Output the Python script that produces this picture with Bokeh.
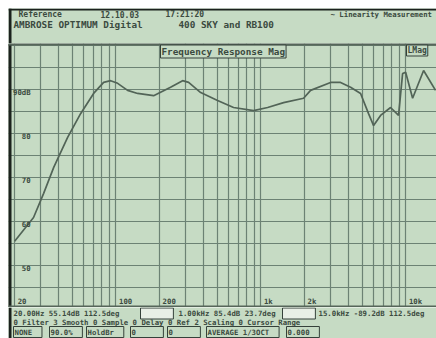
from bokeh.plotting import figure
from bokeh.models import Label, FixedTicker, Range1d
from bokeh.layouts import column
from bokeh.core.properties import value
from bokeh.embed import file_html
from bokeh.resources import INLINE

# Frequency response (Hz, dB)
freq = [20, 27, 31.7, 37.2, 46.4, 57, 70.1, 82.2, 91.9, 102.7, 120.3, 141,
        181.8, 238, 288, 317, 384, 502, 647, 890, 1112, 1433, 1968, 2199,
        3021, 3541, 4151, 4866, 5522, 5983, 6685, 7835, 8895, 9484, 9954,
        11120, 13240, 16000]
spl = [55.5, 60.9, 66.4, 72.3, 79.1, 84.5, 89.1, 91.6, 92.0, 91.4, 89.8, 89.1,
       88.6, 90.5, 92.0, 91.6, 89.3, 87.5, 85.9, 85.2, 85.9, 87.0, 88.0, 89.8,
       91.6, 91.6, 90.5, 89.1, 84.5, 81.8, 84.1, 85.9, 84.1, 93.6, 93.9,
       88.0, 94.3, 89.8]

x_grid = [20, 30, 40, 50, 60, 70, 80, 90, 100, 200, 300, 400, 500, 600, 700,
          800, 900, 1000, 2000, 3000, 4000, 5000, 6000, 7000, 8000, 9000, 10000]
y_grid = [45, 50, 55, 60, 65, 70, 75, 80, 85, 90, 95, 100]
x_tick_f = [20, 100, 200, 1000, 2000, 10000]
x_tick_t = ["20", "100", "200", "1k", "2k", "10k"]
y_tick_v = [90, 80, 70, 60, 50]
y_tick_t = ["90dB", "80", "70", "60", "50"]

BG = "#c6dbc4"
GRID = "#6c8274"
INK = "#3b4a40"
DARK = "#1b221d"
EDGE = "#56665a"
FONTNAME = "DejaVu Sans Mono"
FONT = value(FONTNAME)


def panel(h, xr, yr, top=0, xtype="linear"):
    f = figure(width=436, height=h, output_backend="svg", toolbar_location=None,
               x_axis_type=xtype, x_range=xr, y_range=yr,
               min_border_left=8, min_border_right=0, min_border_top=top,
               min_border_bottom=0)
    f.background_fill_color = BG
    f.border_fill_color = "white"
    f.outline_line_color = None
    for ax in f.axis:
        ax.visible = False
    return f


def lab(f, x, y, t, box=False, size="6pt", fill=BG, units="data"):
    kw = dict(x=x, y=y, x_units=units, y_units=units, text=t,
              text_font=FONTNAME, text_font_size=size, text_font_style="bold",
              text_color=INK, text_baseline="middle")
    if box:
        kw.update(border_line_color="#35413a", border_line_width=1,
                  background_fill_color=fill, padding=1)
    f.add_layout(Label(**kw))


# ---- header panel (data units = page pixels)
head = panel(43, Range1d(8, 436), Range1d(43, 8), top=8)
head.grid.visible = False
head.segment(x0=[8], y0=[9], x1=[436], y1=[9], line_color=DARK, line_width=2)
head.segment(x0=[9.5], y0=[8], x1=[9.5], y1=[43], line_color=DARK, line_width=3)
lab(head, 18, 13.5, "Reference")
lab(head, 100, 13.5, "12.10.03")
lab(head, 165, 13.5, "17:21:20")
lab(head, 330, 13.5, "~ Linearity Measurement", size="5.5pt")
lab(head, 13, 24, "AMBROSE OPTIMUM Digital", size="7pt")
lab(head, 178, 24, "400 SKY and RB100", size="7pt")

# ---- main plot
xr = Range1d(18.14, 16250)
yr = Range1d(40.45, 100.45)
p = panel(264, xr, yr, xtype="log")
p.xgrid.ticker = FixedTicker(ticks=x_grid)
p.ygrid.ticker = FixedTicker(ticks=y_grid)
for g in (p.xgrid[0], p.ygrid[0]):
    g.grid_line_color = GRID
    g.grid_line_width = 1.2

p.line(freq, spl, line_color="#526457", line_width=1.7)

# frame edges: dark left rule, grey top and bottom rules
p.segment(x0=[xr.start], y0=[yr.start], x1=[xr.start], y1=[yr.end], line_color=DARK, line_width=6)
p.segment(x0=[xr.start, xr.start], y0=[yr.end, yr.start], x1=[xr.end, xr.end],
          y1=[yr.end, yr.start], line_color=EDGE, line_width=4)

p.text(x=x_tick_f, y=[41.9] * len(x_tick_f), text=x_tick_t, x_offset=3,
       text_font=FONT, text_font_size="5.5pt", text_font_style="bold",
       text_color=INK, text_baseline="middle", text_align="left")
p.text(x=[20] * len(y_tick_v), y=y_tick_v, text=y_tick_t, x_offset=16, y_offset=3,
       text_font=FONT, text_font_size="5.5pt", text_font_style="bold",
       text_color=INK, text_baseline="middle", text_align="right")
lab(p, 152, 256, "Frequency Response Mag", box=True, size="7pt", units="screen")
lab(p, 398, 257, "LMag", box=True, size="6pt", units="screen")

# ---- footer panel (data units = page pixels)
foot = panel(31, Range1d(8, 436), Range1d(338, 307))
foot.grid.visible = False
foot.segment(x0=[9.5], y0=[307], x1=[9.5], y1=[338], line_color=DARK, line_width=3)
lab(foot, 13, 313, "20.00Hz  55.14dB  112.5deg", size="5.5pt")
lab(foot, 140, 313, "       ", box=True, size="5.5pt", fill="#e8efe6")
lab(foot, 178, 313, "1.00kHz 85.4dB  23.7deg", size="5.5pt")
lab(foot, 282, 313, "       ", box=True, size="5.5pt", fill="#e8efe6")
lab(foot, 318, 313, "15.0kHz -89.2dB 112.5deg", size="5.5pt")
lab(foot, 13, 321.5, "0 Filter 3 Smooth 0 Sample 0 Delay 0 Ref 2 Scaling 0 Cursor Range",
    size="5.5pt")
lab(foot, 13, 331.5, " NONE ", box=True, size="5.5pt")
lab(foot, 49, 331.5, " 90.0% ", box=True, size="5.5pt")
lab(foot, 86, 331.5, " HoldBr ", box=True, size="5.5pt")
lab(foot, 130, 331.5, "      0", box=True, size="5.5pt")
lab(foot, 167, 331.5, "      0", box=True, size="5.5pt")
lab(foot, 206, 331.5, " AVERAGE 1/3OCT ", box=True, size="5.5pt")
lab(foot, 286, 331.5, " 0.000 ", box=True, size="5.5pt")

layout = column(head, p, foot, spacing=0)
open("out.html", "w").write(file_html(layout, INLINE))
